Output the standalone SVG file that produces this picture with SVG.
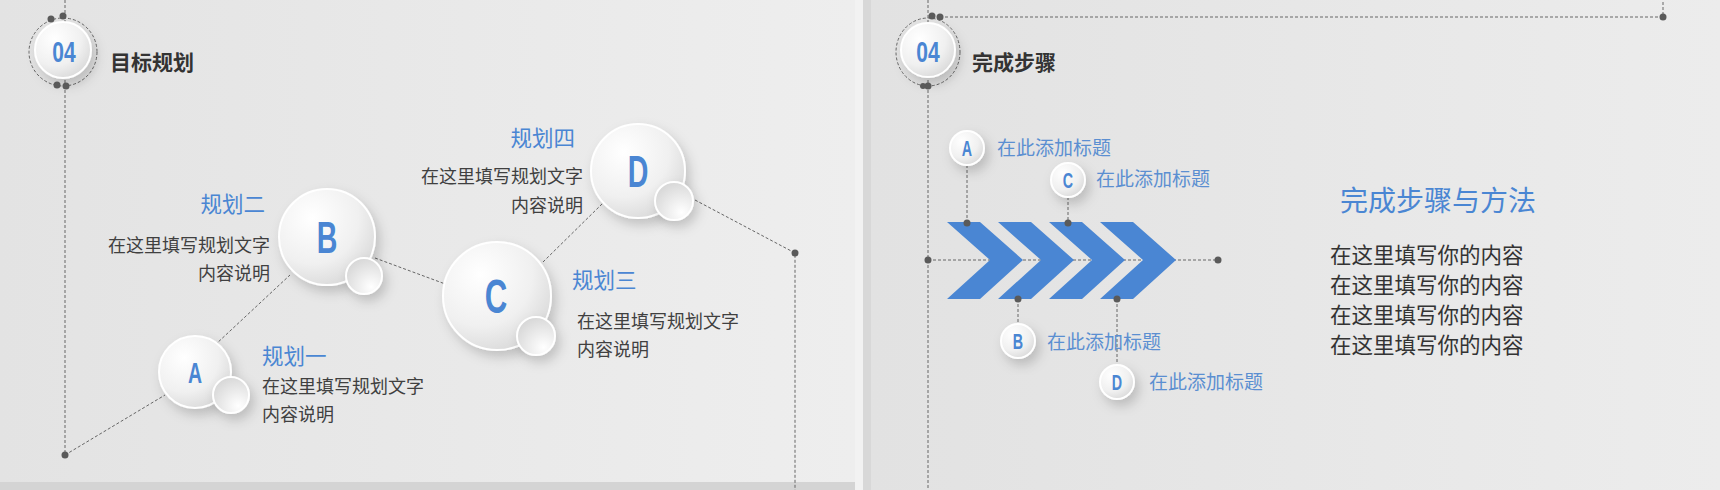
<svg xmlns="http://www.w3.org/2000/svg" width="1720" height="490" viewBox="0 0 1720 490">
<defs>
<linearGradient id="bgL" x1="0" y1="0" x2="1" y2="0"><stop offset="0" stop-color="#e3e3e3"/><stop offset="1" stop-color="#eeeeee"/></linearGradient>
<linearGradient id="bgR" x1="0" y1="0" x2="1" y2="0"><stop offset="0" stop-color="#e2e2e2"/><stop offset="1" stop-color="#ececec"/></linearGradient>
<radialGradient id="ball" cx="0.35" cy="0.3" r="0.8"><stop offset="0" stop-color="#ffffff"/><stop offset="0.6" stop-color="#f0f0f0"/><stop offset="1" stop-color="#d6d6d6"/></radialGradient>
<radialGradient id="small" cx="0.7" cy="0.8" r="0.9"><stop offset="0" stop-color="#ffffff"/><stop offset="1" stop-color="#d4d4d4"/></radialGradient>
<filter id="sh" x="-50%" y="-50%" width="200%" height="200%"><feDropShadow dx="4" dy="6" stdDeviation="6" flood-color="#000" flood-opacity="0.18"/></filter>
</defs>
<style>
.dash{stroke:#666;stroke-width:1;stroke-dasharray:3 2;fill:none}
.dot{fill:#5a5a5a}
.ball{fill:url(#ball);stroke:#fff;stroke-width:2;filter:url(#sh)}
.sm{fill:url(#small);stroke:#fff;stroke-width:2;filter:url(#sh)}
.let{font-family:"Liberation Sans",sans-serif;font-weight:bold;fill:#4a86d3;text-anchor:middle}
.ttl{font-family:"Noto Sans CJK SC",sans-serif;font-weight:bold;font-size:21px;fill:#333}
.h{font-family:"Noto Sans CJK SC",sans-serif;font-size:21.5px;fill:#4a86d3}
.b{font-family:"Noto Sans CJK SC",sans-serif;font-size:18px;fill:#404040}
.lb{font-family:"Noto Sans CJK SC",sans-serif;font-size:19px;fill:#5b8fd1}
.big{font-family:"Noto Sans CJK SC",sans-serif;font-size:28px;fill:#4a86d3}
.rb{font-family:"Noto Sans CJK SC",sans-serif;font-size:21.5px;fill:#333}
.chev{fill:#4a86d3}
</style>
<rect x="0" y="0" width="1720" height="490" fill="#d4d4d4"/>
<rect x="0" y="0" width="855" height="482" fill="url(#bgL)"/>
<rect x="855" y="0" width="8" height="490" fill="#f2f2f2"/>
<rect x="863" y="0" width="8" height="490" fill="#d8d8d8"/>
<rect x="871" y="0" width="849" height="490" fill="url(#bgR)"/>
<g id="connectors">
<path class="dash" d="M65 0V455M65 455L165 395M215 345L290 275M375 258L448 285M543 262L603 203M695 200L795 253V490"/>
<path class="dash" d="M928 0V490M928 260H1218M940 17H1663V0M967 165V223M1068 197V223M1018 299V324M1117 299V366"/>
<circle class="dot" cx="65" cy="455" r="3.5"/><circle class="dot" cx="795" cy="253" r="3.5"/>
<circle class="dot" cx="928" cy="260" r="3.5"/><circle class="dot" cx="1218" cy="260" r="3.5"/>
<circle class="dot" cx="940" cy="17" r="3.5"/><circle class="dot" cx="1663" cy="17" r="3.5"/>
</g>
<g id="header-left">
<circle cx="63" cy="52" r="34" class="dash"/>
<circle cx="63" cy="50" r="28" class="ball"/>
<circle class="dot" cx="51" cy="19" r="3.5"/><circle class="dot" cx="63" cy="16" r="3.5"/><circle class="dot" cx="57" cy="85" r="3.5"/><circle class="dot" cx="66" cy="86" r="3.5"/>
<text class="let" transform="translate(64 62) scale(0.7 1)" font-size="30">04</text>
<text class="ttl" x="110" y="70">目标规划</text>
</g>
<g id="nodeA"><circle class="ball" cx="195" cy="372" r="36"/><circle class="sm" cx="231" cy="395" r="18"/><text class="let" transform="translate(195 383) scale(0.65 1)" font-size="30">A</text>
<text class="h" x="262" y="364">规划一</text><text class="b" x="262" y="393">在这里填写规划文字</text><text class="b" x="262" y="421">内容说明</text></g>
<g id="nodeB"><circle class="ball" cx="327" cy="237" r="48"/><circle class="sm" cx="364" cy="276" r="18"/><text class="let" transform="translate(327 253) scale(0.65 1)" font-size="44">B</text>
<text class="h" x="265" y="212" text-anchor="end">规划二</text><text class="b" x="270" y="252" text-anchor="end">在这里填写规划文字</text><text class="b" x="270" y="280" text-anchor="end">内容说明</text></g>
<g id="nodeC"><circle class="ball" cx="497" cy="296" r="54"/><circle class="sm" cx="536" cy="336" r="19"/><text class="let" transform="translate(496 313) scale(0.65 1)" font-size="48">C</text>
<text class="h" x="572" y="288">规划三</text><text class="b" x="577" y="328">在这里填写规划文字</text><text class="b" x="577" y="356">内容说明</text></g>
<g id="nodeD"><circle class="ball" cx="638" cy="171" r="47"/><circle class="sm" cx="674" cy="201" r="19"/><text class="let" transform="translate(638 187) scale(0.65 1)" font-size="44">D</text>
<text class="h" x="575" y="146" text-anchor="end">规划四</text><text class="b" x="583" y="183" text-anchor="end">在这里填写规划文字</text><text class="b" x="583" y="212" text-anchor="end">内容说明</text></g>
<g id="header-right">
<ellipse cx="928" cy="52" rx="32" ry="34" class="dash"/>
<circle cx="928" cy="50" r="27" class="ball"/>
<circle class="dot" cx="932" cy="16" r="3.5"/><circle class="dot" cx="928" cy="86" r="3.5"/><circle class="dot" cx="923" cy="86" r="3"/>
<text class="let" transform="translate(928 62) scale(0.7 1)" font-size="30">04</text>
<text class="ttl" x="972" y="70">完成步骤</text>
</g>
<g id="chevrons">
<polygon class="chev" points="947,222 980,222 1023,260 980,299 947,299 990,260"/>
<polygon class="chev" points="998,222 1031,222 1074,260 1031,299 998,299 1041,260"/>
<polygon class="chev" points="1049,222 1082,222 1125,260 1082,299 1049,299 1092,260"/>
<polygon class="chev" points="1100,222 1133,222 1176,260 1133,299 1100,299 1143,260"/>
<circle class="dot" cx="967" cy="223" r="3.5"/><circle class="dot" cx="1068" cy="223" r="3.5"/><circle class="dot" cx="1018" cy="299" r="3.5"/><circle class="dot" cx="1117" cy="299" r="3.5"/>
</g>
<g id="stepA"><circle class="ball" cx="967" cy="148" r="17"/><text class="let" transform="translate(967 156) scale(0.65 1)" font-size="22">A</text><text class="lb" x="997" y="155">在此添加标题</text></g>
<g id="stepC"><circle class="ball" cx="1068" cy="180" r="17"/><text class="let" transform="translate(1068 188) scale(0.65 1)" font-size="22">C</text><text class="lb" x="1096" y="186">在此添加标题</text></g>
<g id="stepB"><circle class="ball" cx="1018" cy="341" r="17"/><text class="let" transform="translate(1018 349) scale(0.65 1)" font-size="22">B</text><text class="lb" x="1047" y="349">在此添加标题</text></g>
<g id="stepD"><circle class="ball" cx="1117" cy="382" r="17"/><text class="let" transform="translate(1117 390) scale(0.65 1)" font-size="22">D</text><text class="lb" x="1149" y="389">在此添加标题</text></g>
<g id="summary">
<text class="big" x="1340" y="211">完成步骤与方法</text>
<text class="rb" x="1330" y="263">在这里填写你的内容</text>
<text class="rb" x="1330" y="293">在这里填写你的内容</text>
<text class="rb" x="1330" y="323">在这里填写你的内容</text>
<text class="rb" x="1330" y="353">在这里填写你的内容</text>
</g>
</svg>
